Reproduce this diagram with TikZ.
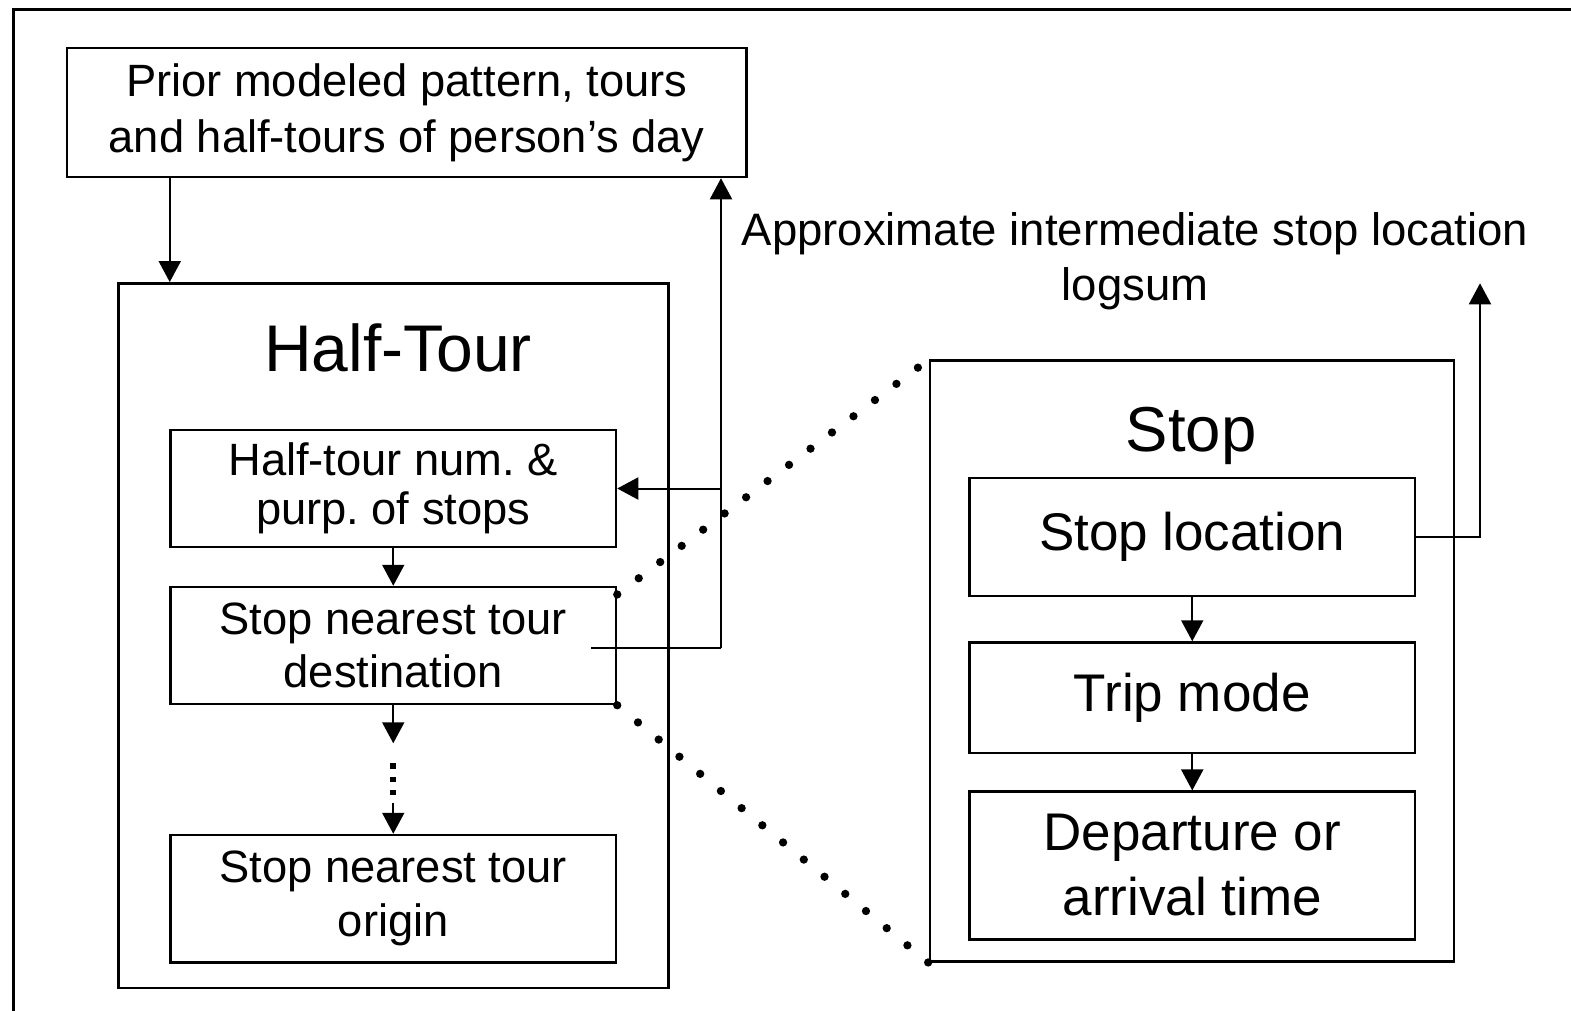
\documentclass[tikz,border=0pt]{standalone}
\usepackage{fontspec}
\setmainfont{Liberation Sans}
\usetikzlibrary{arrows.meta,calc}
\frenchspacing
\begin{document}
\begin{tikzpicture}[x=1pt,y=-1pt,
  box/.style={draw,line width=2.5pt,inner sep=0pt,align=center,minimum width=445.5pt},
  frame/.style={draw,line width=2.5pt,inner sep=0pt},
  title/.style={font=\fontsize{63.5}{70}\selectfont,inner sep=0pt,anchor=base},
  arr/.style={line width=2pt,-{Triangle[length=21pt,width=22pt]}},
  link/.style={line width=2pt},
  dotline/.style={line width=8.3pt,line cap=round,dash pattern=on 0pt off 26.9pt},
  gapdots/.style={line width=6pt,dash pattern=on 5.7pt off 7.6pt},
]
\useasboundingbox (0,0) rectangle (1571,1010);
% outer frame (only left and top edges fall inside the picture)
\draw[line width=2.5pt] (13.5,1012) -- (13.5,9.3) -- (1573,9.3);

% top box
\node[box,minimum width=679.5pt,minimum height=129pt,font=\fontsize{45.3}{56}\selectfont] (prior) at (406.75,112.5)
  {Prior modeled pattern, tours\\and half-tours of person’s day};

% Half-Tour group
\node[frame,minimum width=550pt,minimum height=704.7pt] (ht) at (393.5,635.65) {};
\node[title,font=\fontsize{66}{72}\selectfont] (httitle) at (398,371.7) {Half-Tour};
\node[box,minimum height=117pt,font=\fontsize{45.3}{49}\selectfont] (hnum) at (393.25,488.5)
  {Half-tour num. \&\\purp. of stops};
\node[box,minimum height=117pt,font=\fontsize{45.3}{53}\selectfont] (dest) at (393.25,645.5)
  {Stop nearest tour\\destination};
\node[box,minimum height=127.5pt,font=\fontsize{45.3}{54}\selectfont] (orig) at (393.25,898.75)
  {Stop nearest tour\\origin};

% Stop group
\node[frame,minimum width=524pt,minimum height=601pt] (stop) at (1192,661.2) {};
\node[title] (stoptitle) at (1191,451.7) {Stop};
\node[box,minimum height=118pt,font=\fontsize{53}{64}\selectfont] (sloc) at (1192.25,537) {Stop location};
\node[box,minimum height=110.5pt,font=\fontsize{53}{64}\selectfont] (trip) at (1192.25,697.75) {Trip mode};
\node[box,minimum height=147.6pt,font=\fontsize{53}{65}\selectfont] (dep) at (1192.25,865.5)
  {Departure or\\arrival time};

% label
\node[font=\fontsize{45.5}{55}\selectfont,align=center,inner sep=0pt,anchor=north] (lbl) at (1135,212)
  {Approximate intermediate stop location\\logsum};

% connectors
\draw[arr] ([xshift=104pt]prior.south west) -- ([xshift=104pt]prior.south west |- ht.north);

\coordinate (fb) at (721,648.3);
\draw[link] ([xshift=-26.5pt,yshift=-2.8pt]dest.east) -- (fb);
\draw[arr] (fb) -- (fb |- prior.south);
\draw[arr] (fb |- hnum.east) -- (hnum.east);

\draw[arr] (hnum.south) -- (dest.north);
\draw[arr] (dest.south) -- ($(dest.south)+(0,38)$);
\draw[gapdots] ($(dest.south)+(0,58)$) -- ($(dest.south)+(0,89.5)$);
\draw[arr] ($(orig.north)+(0,-31)$) -- (orig.north);

\draw[dotline] ([yshift=-8.7pt]dest.north east) -- (stop.north west);
\draw[dotline] (dest.south east) -- (stop.south west);

\coordinate (up) at (1480,283.3);
\draw[arr] (sloc.east) -| (up);
\draw[arr] (sloc.south) -- (trip.north);
\draw[arr] (trip.south) -- (dep.north);
\end{tikzpicture}
\end{document}
